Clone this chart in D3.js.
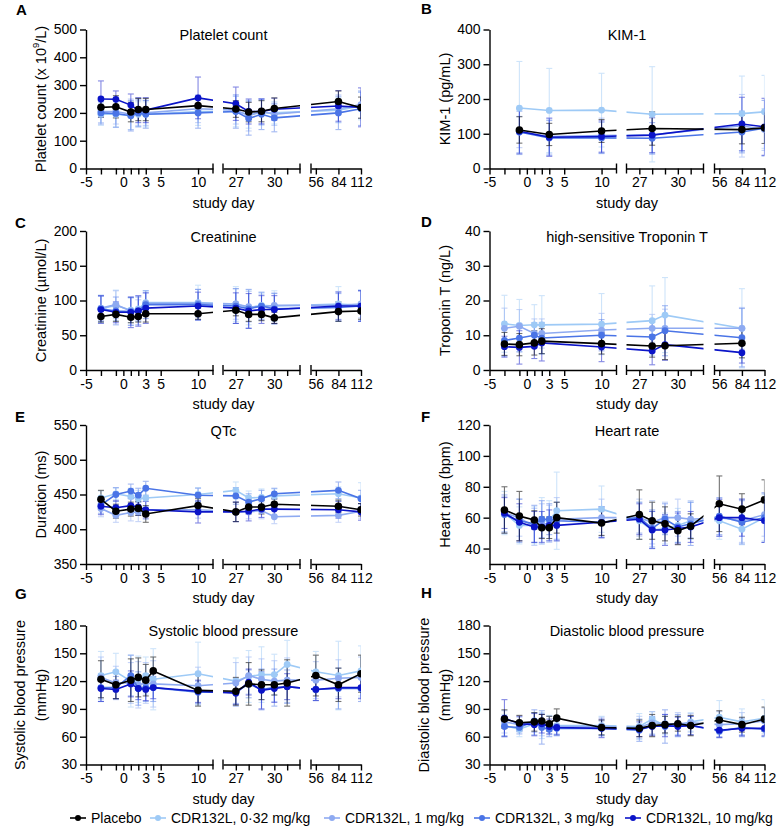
<!DOCTYPE html>
<html>
<head>
<meta charset="utf-8">
<script src="https://cdn.jsdelivr.net/npm/d3@7.9.0/dist/d3.min.js"></script>
<style>
  body { margin: 0; background: #fff; }
  svg { font-family: "Liberation Sans", Arial, sans-serif; }
</style>
</head>
<body>
<svg id="chart" width="780" height="830"></svg>
<script>
// ---- series ----
const seriesNames = ["Placebo", "CDR132L, 0·32 mg/kg", "CDR132L, 1 mg/kg", "CDR132L, 3 mg/kg", "CDR132L, 10 mg/kg"];
const seriesColors = ["#000000", "#9ecaf6", "#8eaaf1", "#4a74e6", "#0b14c8"];

// ---- x axis (broken: three segments) ----
const segDomains = [[-5, 12], [26, 32], [50, 112]];
const segTickLabels = [[-5, 0, 3, 5, 10], [27, 30], [56, 84, 112]];
const segMinorTicks = [[-5, -3, -1, 0, 1, 2, 3, 5, 10], [27, 28, 29, 30, 31], [56, 84, 112]];

// ---- panels ----
const panelIds = ["A", "B", "C", "D", "E", "F", "G", "H"];
const panelTitles = ["Platelet count", "KIM-1", "Creatinine", "high-sensitive Troponin T", "QTc", "Heart rate", "Systolic blood pressure", "Diastolic blood pressure"];
const yDomains = [[0, 500], [0, 400], [0, 200], [0, 40], [350, 550], [30, 120], [30, 180], [30, 180]];
const yTickValues = [
  [0, 100, 200, 300, 400, 500], [0, 100, 200, 300, 400], [0, 50, 100, 150, 200], [0, 10, 20, 30, 40],
  [350, 400, 450, 500, 550], [40, 60, 80, 100, 120], [30, 60, 90, 120, 150, 180], [30, 60, 90, 120, 150, 180]
];

// A: platelet count
const plateletDays = [-3, -1, 1, 2, 3, 10, 27, 28, 29, 30, 84, 112];
const plateletMean = [
  [220, 222, 203, 212, 212, 226, 214, 203, 206, 216, 241, 219],
  [195, 195, 190, 195, 195, 205, 205, 195, 200, 200, 210, 225],
  [205, 205, 195, 200, 200, 215, 210, 190, 205, 195, 215, 230],
  [200, 198, 190, 200, 195, 200, 205, 180, 195, 182, 200, 215],
  [250, 249, 228, 210, 210, 254, 233, 205, 205, 213, 225, 220]
];
const plateletSd = [
  [35, 40, 35, 40, 40, 30, 30, 35, 38, 38, 38, 38],
  [40, 45, 50, 45, 45, 50, 55, 50, 45, 40, 45, 50],
  [40, 45, 55, 45, 45, 50, 50, 55, 45, 40, 50, 50],
  [40, 50, 55, 50, 50, 55, 60, 60, 55, 50, 60, 60],
  [65, 30, 40, 45, 45, 75, 60, 45, 45, 40, 55, 70]
];

// B: KIM-1
const kimDays = [-1, 3, 10, 28, 84, 112];
const kimMean = [
  [111, 98, 108, 115, 112, 117],
  [174, 167, 168, 156, 158, 163],
  [105, 92, 95, 97, 123, 112],
  [105, 88, 88, 87, 105, 116],
  [107, 90, 92, 96, 128, 120]
];
const kimSd = [
  [38, 32, 33, 48, 41, 45],
  [134, 121, 106, 137, 108, 105],
  [45, 50, 50, 55, 90, 60],
  [60, 50, 45, 45, 60, 80],
  [65, 55, 45, 50, 77, 82]
];

// C: creatinine
const creatDays = [-3, -1, 1, 2, 3, 10, 27, 28, 29, 30, 84, 112];
const creatMean = [
  [77, 80, 76, 77, 81, 81, 86, 80, 80, 75, 84, 85],
  [88, 93, 86, 88, 97, 97, 95, 90, 93, 92, 95, 93],
  [89, 94, 85, 86, 96, 96, 95, 91, 91, 93, 93, 95],
  [88, 85, 84, 85, 94, 94, 92, 88, 92, 88, 90, 92],
  [87, 83, 83, 85, 89, 92, 89, 85, 87, 87, 92, 92]
];
const creatSd = [
  [8, 10, 8, 8, 12, 8, 8, 10, 9, 8, 14, 12],
  [20, 22, 18, 18, 17, 25, 25, 25, 18, 22, 25, 22],
  [18, 20, 20, 15, 15, 20, 22, 22, 18, 18, 20, 20],
  [18, 20, 20, 20, 20, 22, 25, 28, 20, 22, 20, 22],
  [20, 15, 22, 22, 22, 20, 22, 25, 20, 20, 20, 22]
];

// D: troponin T
const tropDays = [-3, -1, 1, 2, 10, 28, 29, 84];
const tropMean = [
  [7.5, 7.3, 7.8, 8.3, 7.6, 6.9, 7.0, 7.7],
  [13.3, 12.8, 13.0, 13.0, 13.2, 14.2, 15.8, 12.0],
  [12.0, 12.6, 10.5, 10.5, 11.5, 12.0, 12.0, 12.0],
  [8.5, 9.2, 10.0, 9.2, 10.0, 9.5, 11.3, 9.3],
  [6.7, 6.5, 6.8, 7.8, 6.6, 5.5, 7.3, 5.0]
];
const tropSd = [
  [3.3, 3.2, 3.5, 3.6, 3.0, 3.2, 4.0, 4.2],
  [8.2, 7.5, 5.8, 8.4, 8.8, 10.0, 10.8, 11.4],
  [5.8, 4.8, 4.2, 4.2, 4.8, 4.0, 5.5, 6.0],
  [4.5, 4.0, 3.6, 4.5, 4.5, 4.2, 7.2, 8.4],
  [3.0, 4.8, 3.5, 5.2, 4.2, 4.0, 4.5, 3.0]
];

// E: QTc
const qtcDays = [-3, -1, 1, 2, 3, 10, 27, 28, 29, 30, 84, 112];
const qtcMean = [
  [443, 426, 429, 430, 422, 434, 425, 432, 432, 436, 433, 428],
  [445, 451, 447, 444, 445, 450, 456, 445, 446, 448, 451, 445],
  [430, 420, 424, 425, 428, 428, 425, 425, 427, 418, 420, 426],
  [435, 450, 455, 449, 459, 449, 448, 439, 444, 451, 456, 444],
  [433, 431, 434, 432, 428, 425, 425, 426, 429, 429, 428, 425]
];
const qtcSd = [
  [13, 10, 10, 10, 12, 10, 14, 10, 10, 8, 9, 9],
  [10, 8, 12, 12, 12, 10, 12, 10, 12, 10, 10, 22],
  [12, 10, 12, 14, 14, 12, 14, 10, 12, 10, 10, 10],
  [12, 10, 10, 10, 10, 10, 12, 12, 12, 8, 12, 12],
  [12, 10, 10, 12, 12, 16, 14, 14, 12, 10, 12, 12]
];

// F: heart rate
const hrDays = [-3, -1, 1, 2, 3, 4, 10, 27, 28, 29, 30, 31, 56, 84, 112];
const hrMean = [
  [65, 61, 58.5, 53.5, 53.5, 60, 56.5, 62, 58, 56, 51.5, 54.5, 69, 65.5, 71.5],
  [63, 55, 55, 58, 58, 64.5, 65.5, 58, 52, 53, 55, 58, 58, 52.5, 60],
  [63, 60, 54, 56, 56, 59, 60, 60, 57, 60, 60, 59, 60, 58, 62],
  [62, 58, 56, 59, 59, 58, 57, 60, 53, 59, 54, 56, 61, 57, 60],
  [63, 57, 54, 54, 55, 55, 57, 59, 52, 52, 53, 54, 60, 60, 58]
];
const hrSd = [
  [15, 16, 6, 7, 7, 10, 8, 16, 12, 11, 9, 8, 18, 10, 13],
  [14, 12, 12, 15, 13, 25, 15, 12, 12, 10, 11, 12, 12, 10, 15],
  [12, 12, 12, 13, 12, 14, 12, 12, 14, 10, 12, 12, 12, 14, 14],
  [12, 14, 12, 12, 10, 12, 10, 10, 12, 10, 10, 14, 12, 14, 16],
  [10, 12, 10, 10, 10, 10, 10, 10, 12, 10, 10, 10, 12, 12, 14]
];

// G: systolic BP
const sbpDays = [-3, -1, 1, 2, 3, 4, 10, 27, 28, 29, 30, 31, 56, 84, 112];
const sbpMean = [
  [122, 116, 121, 124, 121, 131, 110, 109, 117, 116, 116, 118, 126, 116, 128],
  [126, 130, 120, 122, 126, 122, 128, 120, 125, 127, 127, 138, 130, 126, 131],
  [124, 118, 118, 116, 118, 117, 115, 118, 126, 122, 120, 121, 121, 123, 124],
  [113, 113, 126, 112, 113, 113, 108, 108, 117, 111, 113, 114, 111, 112, 112],
  [112, 111, 117, 112, 111, 113, 109, 107, 119, 110, 112, 114, 111, 113, 113]
];
const sbpSd = [
  [20, 15, 23, 21, 17, 15, 17, 15, 23, 16, 11, 25, 22, 18, 20],
  [26, 20, 28, 25, 20, 33, 34, 25, 28, 30, 22, 26, 22, 37, 27],
  [22, 18, 22, 25, 22, 25, 20, 22, 20, 22, 22, 24, 20, 20, 22],
  [15, 12, 22, 18, 15, 15, 12, 15, 15, 22, 20, 18, 12, 22, 14],
  [14, 10, 14, 12, 12, 12, 12, 12, 14, 20, 15, 14, 12, 12, 12]
];

// H: diastolic BP
const dbpDays = [-3, -1, 1, 2, 3, 4, 10, 27, 28, 29, 30, 31, 56, 84, 112];
const dbpMean = [
  [79, 75, 76, 77, 74, 80, 70, 69, 72, 73, 74, 72, 78, 73, 79],
  [72, 68, 74, 72, 73, 72, 72, 71, 79, 72, 72, 76, 81, 76, 80],
  [76, 73, 74, 73, 72, 71, 71, 70, 75, 74, 74, 75, 73, 74, 77],
  [71, 70, 77, 70, 68, 69, 69, 67, 72, 71, 72, 72, 66, 70, 68],
  [80, 74, 73, 74, 71, 70, 69, 68, 71, 72, 71, 72, 67, 69, 69]
];
const dbpSd = [
  [10, 8, 10, 7, 8, 10, 8, 9, 12, 9, 8, 11, 10, 8, 13],
  [12, 8, 12, 14, 10, 10, 10, 14, 8, 10, 10, 10, 18, 14, 20],
  [12, 8, 12, 12, 10, 8, 10, 12, 12, 10, 12, 10, 14, 12, 14],
  [10, 7, 12, 18, 8, 8, 8, 12, 10, 18, 12, 10, 6, 10, 8],
  [20, 8, 12, 10, 8, 8, 10, 8, 10, 12, 10, 10, 8, 8, 8]
];

const panelDays = [plateletDays, kimDays, creatDays, tropDays, qtcDays, hrDays, sbpDays, dbpDays];
const panelMeans = [plateletMean, kimMean, creatMean, tropMean, qtcMean, hrMean, sbpMean, dbpMean];
const panelSds = [plateletSd, kimSd, creatSd, tropSd, qtcSd, hrSd, sbpSd, dbpSd];

// ---- layout ----
const FONT = 14.5;
const colLeft = [86, 489.5];
const rowTop = [29.5, 231, 425, 625.5];
const plotH = 139;
const segPx = [[0, 127], [137, 214], [225, 275]];
const letterPos = [[16, 15], [421, 14], [15, 228], [421, 227], [15, 422], [421, 422], [15, 599], [421, 598]];

const svg = d3.select("#chart");

function makeX(left) {
  const scales = segDomains.map((dom, i) =>
    d3.scaleLinear().domain(dom).range([left + segPx[i][0], left + segPx[i][1]]));
  const f = d => {
    const i = d <= segDomains[0][1] ? 0 : d <= segDomains[1][1] ? 1 : 2;
    return scales[i](d);
  };
  f.scales = scales;
  return f;
}

panelIds.forEach((pid, p) => {
  const col = p % 2, row = Math.floor(p / 2);
  const left = colLeft[col], top = rowTop[row], bottom = top + plotH;
  const x = makeX(left);
  const y = d3.scaleLinear().domain(yDomains[p]).range([bottom, top]);
  const days = panelDays[p];
  const g = svg.append("g");

  // clip for broken axis
  const clipId = "clip" + pid;
  const cp = svg.append("clipPath").attr("id", clipId);
  segPx.forEach(s => {
    cp.append("rect").attr("x", left + s[0]).attr("y", top - 20)
      .attr("width", s[1] - s[0]).attr("height", plotH + 20);
  });

  // y axis
  const yAxis = g.append("g").attr("transform", `translate(${left},0)`)
    .call(d3.axisLeft(y).tickValues(yTickValues[p]).tickSize(6).tickSizeOuter(0).tickPadding(3));

  // x axis segments
  x.scales.forEach((sc, i) => {
    let ticks = segMinorTicks[i].slice();
    if (i === 0 && days.includes(4)) ticks.push(4);
    const labels = segTickLabels[i];
    const ax = g.append("g").attr("transform", `translate(0,${bottom})`)
      .call(d3.axisBottom(sc).tickValues(ticks).tickSize(6).tickSizeOuter(0).tickPadding(3)
        .tickFormat(d => labels.includes(d) ? d : ""));
    // break caps
    const r = sc.range();
    if (i > 0) ax.append("line").attr("x1", r[0]).attr("x2", r[0]).attr("y1", -5).attr("y2", 5);
    if (i < 2) ax.append("line").attr("x1", r[1]).attr("x2", r[1]).attr("y1", -5).attr("y2", 5);
  });

  g.selectAll(".domain, .tick line, line").attr("stroke", "#000").attr("stroke-width", 1.4);
  g.selectAll(".tick text").attr("font-size", FONT - 0.5).attr("font-family", "Liberation Sans, Arial, sans-serif").attr("fill", "#000");
  g.selectAll("g").attr("font-family", null).attr("font-size", null);

  // series
  const data = d3.range(5).map(s => days.map((d, k) => ({ day: d, m: panelMeans[p][s][k], sd: panelSds[p][s][k] })));
  const plot = g.append("g").attr("clip-path", `url(#${clipId})`);
  const line = d3.line().x(d => x(d.day)).y(d => y(d.m));
  const [ymin, ymax] = yDomains[p];
  const order = [1, 2, 3, 4, 0];

  order.forEach(s => {
    const color = seriesColors[s];
    const eb = plot.append("g").attr("stroke", color).attr("stroke-width", 1.1)
      .attr("opacity", s === 0 ? 0.55 : 0.5);
    data[s].forEach(d => {
      const cx = x(d.day);
      const y1 = y(Math.min(ymax, d.m + d.sd)), y0 = y(Math.max(ymin, d.m - d.sd));
      eb.append("line").attr("x1", cx).attr("x2", cx).attr("y1", y1).attr("y2", y0);
      eb.append("line").attr("x1", cx - 3).attr("x2", cx + 3).attr("y1", y1).attr("y2", y1);
      eb.append("line").attr("x1", cx - 3).attr("x2", cx + 3).attr("y1", y0).attr("y2", y0);
    });
  });
  order.forEach(s => {
    const color = seriesColors[s];
    plot.append("path").datum(data[s]).attr("d", line)
      .attr("fill", "none").attr("stroke", color).attr("stroke-width", 1.6);
    plot.selectAll(null).data(data[s]).join("circle")
      .attr("cx", d => x(d.day)).attr("cy", d => y(d.m))
      .attr("r", s === 0 ? 3.8 : 3.4).attr("fill", color);
  });

  // title
  const cxPanel = left + segPx[2][1] / 2;
  g.append("text").attr("x", cxPanel).attr("y", top + 10.5).attr("text-anchor", "middle")
    .attr("font-size", FONT).text(panelTitles[p]);

  // x label
  g.append("text").attr("x", cxPanel).attr("y", bottom + 39).attr("text-anchor", "middle")
    .attr("font-size", FONT).text("study day");

  // y label
  const cy = (top + bottom) / 2;
  const yl = g.append("text").attr("transform", `translate(${left - 45},${cy}) rotate(-90)`)
    .attr("text-anchor", "middle").attr("dy", "0.35em").attr("font-size", FONT);
  if (p === 0) {
    yl.append("tspan").text("Platelet count (x 10");
    yl.append("tspan").attr("font-size", FONT * 0.65).attr("dy", "-0.7em").text("9");
    yl.append("tspan").attr("dy", "0.45em").text("/L)");
  } else if (p === 6 || p === 7) {
    g.append("text").attr("transform", `translate(${left - 66},${cy}) rotate(-90)`)
      .attr("text-anchor", "middle").attr("dy", "0.35em").attr("font-size", FONT).text(panelTitles[p]);
    yl.text("(mmHg)");
  } else {
    const ylabels = { 1: "KIM-1 (pg/mL)", 2: "Creatinine (µmol/L)", 3: "Troponin T (ng/L)", 4: "Duration (ms)", 5: "Heart rate (bpm)" };
    yl.text(ylabels[p]);
  }

  // panel letter
  svg.append("text").attr("x", letterPos[p][0]).attr("y", letterPos[p][1])
    .attr("font-size", 15).attr("font-weight", "bold").text(pid);
});

// ---- legend ----
const legendMarkerX = [78, 158, 332, 482, 633];
const legend = svg.append("g").attr("transform", "translate(0,818)");
seriesNames.forEach((name, s) => {
  const mx = legendMarkerX[s];
  legend.append("line").attr("x1", mx - 8).attr("x2", mx + 8).attr("y1", 0).attr("y2", 0)
    .attr("stroke", seriesColors[s]).attr("stroke-width", 1.6);
  legend.append("circle").attr("cx", mx).attr("cy", 0).attr("r", 3).attr("fill", seriesColors[s]);
  legend.append("text").attr("x", mx + 13).attr("y", 0).attr("dy", "0.35em")
    .attr("font-size", 14).text(name);
});
</script>
</body>
</html>
